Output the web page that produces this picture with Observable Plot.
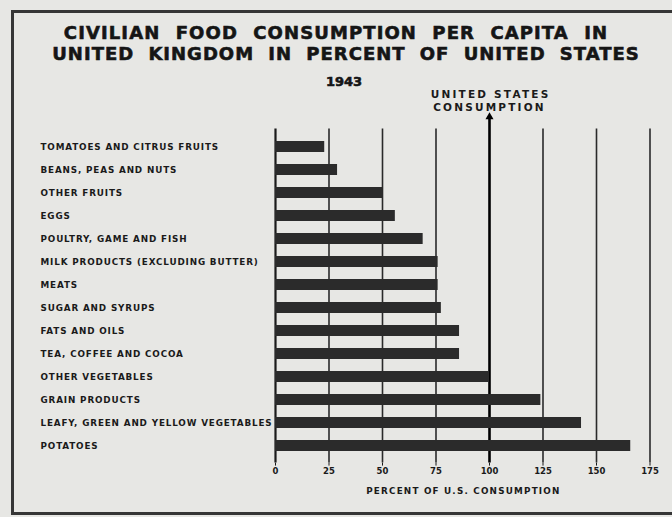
<!DOCTYPE html>
<html>
<head>
<meta charset="utf-8">
<script src="https://cdn.jsdelivr.net/npm/d3@7"></script>
<script src="https://cdn.jsdelivr.net/npm/@observablehq/plot@0.6"></script>
<style>
  html, body { margin: 0; padding: 0; background: #e7e7e4; }
  #wrap { position: relative; width: 672px; height: 517px; overflow: hidden; background: #e7e7e4; font-family: "DejaVu Sans", sans-serif; }
  #border { position: absolute; left: 11px; top: 10px; width: 700px; height: 499px; border: 3px solid #363636; }
  .t { position: absolute; left: 0; width: 672px; text-align: center; font-weight: bold; color: #151515; -webkit-text-stroke: 0.6px #151515; }
  #t1 { top: 22px; font-size: 18px; letter-spacing: 1.1px; word-spacing: 8px; }
  #t2 { top: 43px; font-size: 18px; letter-spacing: 1px; word-spacing: 7px; padding-left: 10px; }
  #t3 { top: 74px; font-size: 13px; left: 8px; }
  #chart { position: absolute; left: 0; top: 80px; }
  [aria-label="y-axis tick label"] text { letter-spacing: 0.85px; }
</style>
</head>
<body>
<div id="wrap">
  <div id="border"></div>
  <div class="t" id="t1">CIVILIAN FOOD CONSUMPTION PER CAPITA IN</div>
  <div class="t" id="t2">UNITED KINGDOM IN PERCENT OF UNITED STATES</div>
  <div class="t" id="t3">1943</div>
  <div id="chart"></div>
</div>
<script>
const categories = [
  "TOMATOES AND CITRUS FRUITS",
  "BEANS, PEAS AND NUTS",
  "OTHER FRUITS",
  "EGGS",
  "POULTRY, GAME AND FISH",
  "MILK PRODUCTS (EXCLUDING BUTTER)",
  "MEATS",
  "SUGAR AND SYRUPS",
  "FATS AND OILS",
  "TEA, COFFEE AND COCOA",
  "OTHER VEGETABLES",
  "GRAIN PRODUCTS",
  "LEAFY, GREEN AND YELLOW VEGETABLES",
  "POTATOES"
];
const percentOfUS = [23, 29, 50, 56, 69, 76, 76, 77.5, 86, 86, 100, 124, 143, 166];
const xTicks = [0, 25, 50, 75, 100, 125, 150, 175];
const gridTicks = [25, 50, 75, 125, 150, 175];
const referenceValue = 100;
const referenceLabel = "UNITED STATES\nCONSUMPTION";
const xLabel = "PERCENT OF U.S. CONSUMPTION";

const data = categories.map((c, i) => ({category: c, value: percentOfUS[i]}));
const ink = "#1a1a1a";

const chart = Plot.plot({
  width: 672,
  height: 437,
  marginTop: 48.4,
  marginBottom: 54.4,
  marginLeft: 275,
  marginRight: 22.5,
  style: {background: "transparent", fontFamily: "DejaVu Sans, sans-serif", color: ink},
  x: {domain: [0, 175]},
  y: {domain: categories, paddingInner: 0.54, paddingOuter: 0.3},
  marks: [
    Plot.ruleX(gridTicks, {stroke: "#2a2a2a", strokeWidth: 1.6}),
    Plot.ruleX([0], {stroke: ink, strokeWidth: 2.2}),
    Plot.ruleX([referenceValue], {stroke: "#000", strokeWidth: 2.6, insetTop: -12}),
    Plot.dot([referenceValue], {x: d => d, frameAnchor: "top", dy: -12, symbol: "triangle", r: 3, fill: "#000", stroke: "none"}),
    Plot.text([referenceLabel], {x: () => referenceValue, frameAnchor: "top", text: d => d, dy: -18, lineAnchor: "bottom", fontSize: 10.5, fontWeight: "bold", lineHeight: 1.25, fill: ink}),
    Plot.barX(data, {x: "value", y: "category", fill: "#2b2b2b"}),
    Plot.axisY({tickSize: 0, tickPadding: 0, textAnchor: "start", dx: -235, fontSize: 8.8, fontWeight: "bold", label: null, fill: ink}),
    Plot.axisX({ticks: xTicks, tickSize: 3, tickPadding: 2, fontSize: 8.5, fontWeight: "bold", label: null, fill: ink}),
    Plot.text([xLabel], {x: () => 87.5, frameAnchor: "bottom", text: d => d, dy: 31, fontSize: 8.8, fontWeight: "bold", fill: ink})
  ]
});
// letter spacing for the hand-lettered look
d3.select(chart).selectAll("text").each(function() {
  const t = this.textContent;
  if (t === xLabel) d3.select(this).style("letter-spacing", "1.2px").attr("dx", 0.6);
  if (t.replace(/\s/g, "") === referenceLabel.replace(/\s/g, "")) d3.select(this).style("letter-spacing", "2.2px").attr("dx", 1.1);
});
document.getElementById("chart").appendChild(chart);
</script>
</body>
</html>
